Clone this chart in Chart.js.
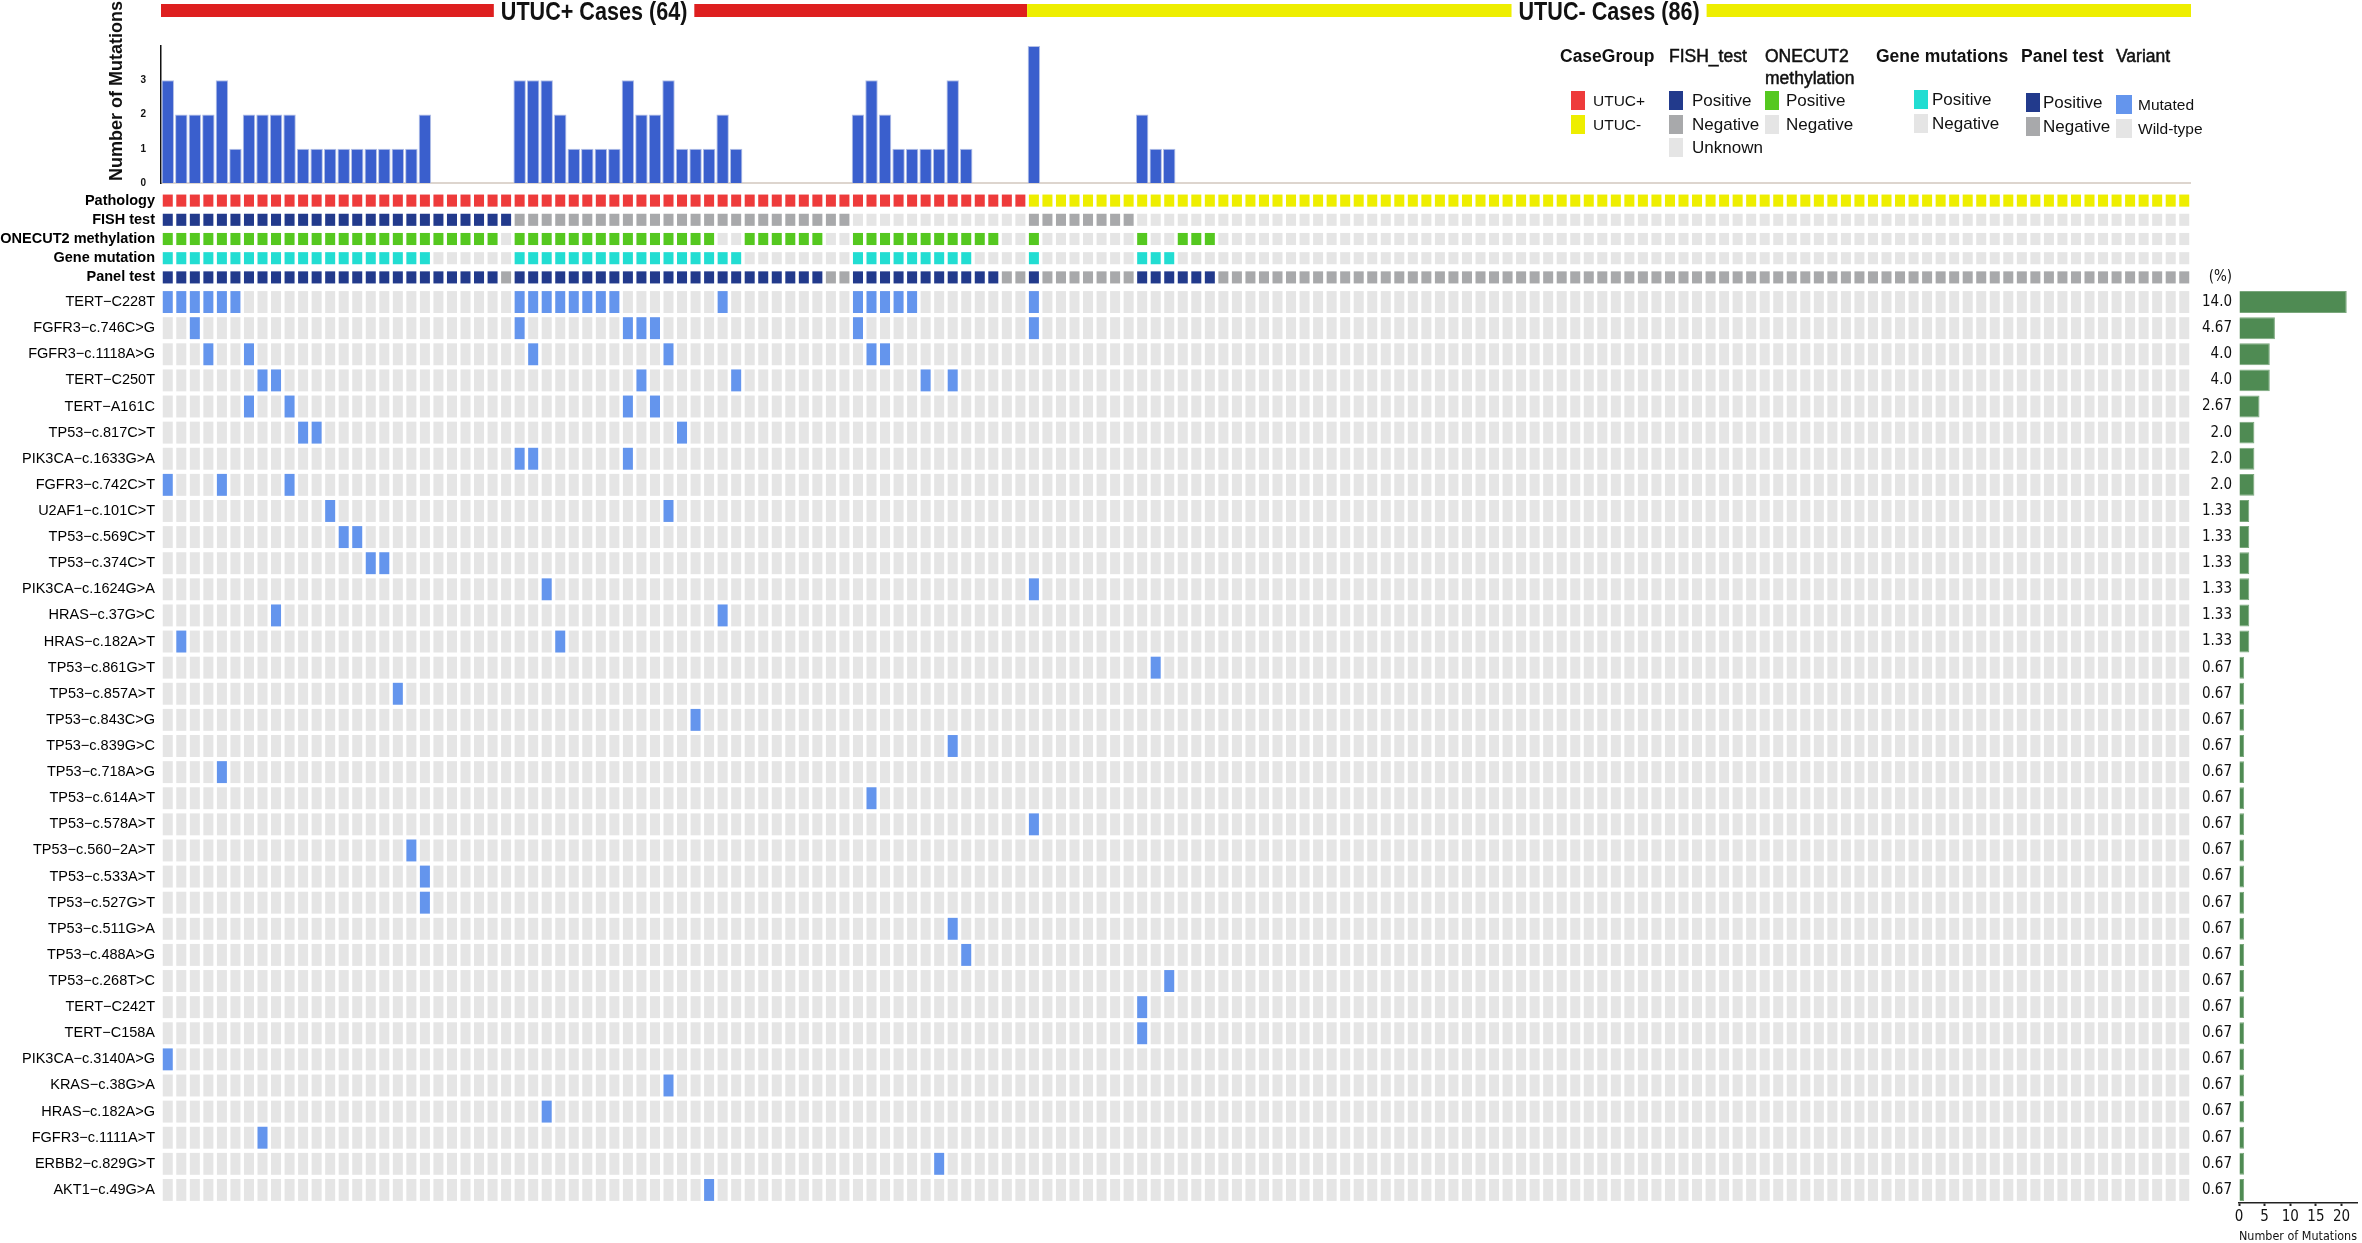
<!DOCTYPE html>
<html>
<head>
<meta charset="utf-8">
<title>UTUC oncoplot</title>
<script src="https://cdn.jsdelivr.net/npm/chart.js@4.4.1/dist/chart.umd.min.js"></script>
<style>
  html, body { margin: 0; padding: 0; background: #fff; }
  #page { position: relative; width: 2362px; height: 1243px; overflow: hidden;
          font-family: "Liberation Sans", Arial, sans-serif; color: #111; }
  canvas { position: absolute; }
  #topChart   { left: 0; top: 0; }
  #trackChart { left: 0; top: 191px; }
  #geneChart  { left: 0; top: 289px; }
  #freqChart  { left: 2195px; top: 260px; }

  /* legend */
  .lg { position: absolute; white-space: nowrap; }
  .lg-title { font-weight: bold; font-size: 17.5px; line-height: 22px; }
  .lg-title.light { font-weight: normal; -webkit-text-stroke: 0.5px #111; }
  .lg-item { position: relative; height: 23.5px; font-size: 17px; line-height: 23.5px; }
  .lg-item i { position: absolute; top: 2px; width: 14px; height: 19px; }
  .lg-item span { position: absolute; top: 0; }
  .small { font-size: 15.5px; }
</style>
</head>
<body>
<div id="page">
  <canvas id="topChart" width="2191" height="190"></canvas>
  <canvas id="trackChart" width="2191" height="96"></canvas>
  <canvas id="geneChart" width="2191" height="914"></canvas>
  <canvas id="freqChart" width="167" height="983"></canvas>

  <!-- ── Legend ───────────────────────────────────── -->
  <div class="lg lg-title" style="left:1560px;top:45px">CaseGroup</div>
  <div class="lg" style="left:1560px;top:89px;width:100px">
    <div class="lg-item small"><i style="left:11px;background:#ee3b3b"></i><span style="left:33px">UTUC+</span></div>
    <div class="lg-item small"><i style="left:11px;background:#eeee00"></i><span style="left:33px">UTUC-</span></div>
  </div>

  <div class="lg lg-title light" style="left:1669px;top:45px">FISH_test</div>
  <div class="lg" style="left:1669px;top:89px;width:95px">
    <div class="lg-item"><i style="left:0;background:#223a8c"></i><span style="left:23px">Positive</span></div>
    <div class="lg-item"><i style="left:0;background:#a8a9ab"></i><span style="left:23px">Negative</span></div>
    <div class="lg-item"><i style="left:0;background:#e5e5e5"></i><span style="left:23px">Unknown</span></div>
  </div>

  <div class="lg lg-title light" style="left:1765px;top:45px">ONECUT2<br>methylation</div>
  <div class="lg" style="left:1765px;top:89px;width:100px">
    <div class="lg-item"><i style="left:0;background:#55c820"></i><span style="left:21px">Positive</span></div>
    <div class="lg-item"><i style="left:0;background:#e5e5e5"></i><span style="left:21px">Negative</span></div>
  </div>

  <div class="lg lg-title" style="left:1876px;top:45px">Gene mutations</div>
  <div class="lg" style="left:1876px;top:88px;width:140px">
    <div class="lg-item"><i style="left:38px;background:#22ddd2"></i><span style="left:56px">Positive</span></div>
    <div class="lg-item"><i style="left:38px;background:#e5e5e5"></i><span style="left:56px">Negative</span></div>
  </div>

  <div class="lg lg-title" style="left:2021px;top:45px">Panel test</div>
  <div class="lg" style="left:2021px;top:91px;width:95px">
    <div class="lg-item"><i style="left:5px;background:#223a8c"></i><span style="left:22px">Positive</span></div>
    <div class="lg-item"><i style="left:5px;background:#a8a9ab"></i><span style="left:22px">Negative</span></div>
  </div>

  <div class="lg lg-title light" style="left:2116px;top:45px">Variant</div>
  <div class="lg" style="left:2116px;top:93px;width:90px">
    <div class="lg-item small"><i style="left:0;width:16px;background:#6495ed"></i><span style="left:22px">Mutated</span></div>
    <div class="lg-item small"><i style="left:0;width:16px;background:#e5e5e5"></i><span style="left:22px">Wild-type</span></div>
  </div>
</div>

<script>
// ── Data ──────────────────────────────────────────────
const caseGroups     = ['UTUC+', 'UTUC-'];
const caseGroupSizes = [64, 86];

// annotation tracks as runs of [status, consecutive samples], left to right
const pathologyRuns = [['UTUC+', 64], ['UTUC-', 86]];
const fishRuns      = [['Positive', 26], ['Negative', 25], ['Unknown', 13], ['Negative', 8], ['Unknown', 78]];
const onecut2Runs   = [['Positive', 25], ['Negative', 1], ['Positive', 15], ['Negative', 2], ['Positive', 6],
                       ['Negative', 2], ['Positive', 11], ['Negative', 2], ['Positive', 1], ['Negative', 7],
                       ['Positive', 1], ['Negative', 2], ['Positive', 3], ['Negative', 72]];
const geneMutRuns   = [['Positive', 20], ['Negative', 6], ['Positive', 17], ['Negative', 8], ['Positive', 9],
                       ['Negative', 4], ['Positive', 1], ['Negative', 7], ['Positive', 3], ['Negative', 75]];
const panelRuns     = [['Positive', 25], ['Negative', 1], ['Positive', 23], ['Negative', 2], ['Positive', 11],
                       ['Negative', 2], ['Positive', 1], ['Negative', 7], ['Positive', 6], ['Negative', 72]];

const trackNames = ['Pathology', 'FISH test', 'ONECUT2 methylation', 'Gene mutation', 'Panel test'];

const genes = [
  'TERT−C228T', 'FGFR3−c.746C>G', 'FGFR3−c.1118A>G', 'TERT−C250T', 'TERT−A161C',
  'TP53−c.817C>T', 'PIK3CA−c.1633G>A', 'FGFR3−c.742C>T', 'U2AF1−c.101C>T', 'TP53−c.569C>T',
  'TP53−c.374C>T', 'PIK3CA−c.1624G>A', 'HRAS−c.37G>C', 'HRAS−c.182A>T', 'TP53−c.861G>T',
  'TP53−c.857A>T', 'TP53−c.843C>G', 'TP53−c.839G>C', 'TP53−c.718A>G', 'TP53−c.614A>T',
  'TP53−c.578A>T', 'TP53−c.560−2A>T', 'TP53−c.533A>T', 'TP53−c.527G>T', 'TP53−c.511G>A',
  'TP53−c.488A>G', 'TP53−c.268T>C', 'TERT−C242T', 'TERT−C158A', 'PIK3CA−c.3140A>G',
  'KRAS−c.38G>A', 'HRAS−c.182A>G', 'FGFR3−c.1111A>T', 'ERBB2−c.829G>T', 'AKT1−c.49G>A'
];

// sample columns (1-based) carrying each variant, same order as genes
const mutatedSamples = [
  [1, 2, 3, 4, 5, 6, 27, 28, 29, 30, 31, 32, 33, 34, 42, 52, 53, 54, 55, 56, 65],
  [3, 27, 35, 36, 37, 52, 65],
  [4, 7, 28, 38, 53, 54],
  [8, 9, 36, 43, 57, 59],
  [7, 10, 35, 37],
  [11, 12, 39],
  [27, 28, 35],
  [1, 5, 10],
  [13, 38],
  [14, 15],
  [16, 17],
  [29, 65],
  [9, 42],
  [2, 30],
  [74],
  [18],
  [40],
  [59],
  [5],
  [53],
  [65],
  [19],
  [20],
  [20],
  [59],
  [60],
  [75],
  [73],
  [73],
  [1],
  [38],
  [29],
  [8],
  [58],
  [41]
];

const freqLabels = [
  '14.0', '4.67', '4.0', '4.0', '2.67', '2.0', '2.0', '2.0', '1.33', '1.33', '1.33', '1.33', '1.33', '1.33',
  '0.67', '0.67', '0.67', '0.67', '0.67', '0.67', '0.67', '0.67', '0.67', '0.67', '0.67',
  '0.67', '0.67', '0.67', '0.67', '0.67', '0.67', '0.67', '0.67', '0.67', '0.67'
];

// ── Colours & fonts ───────────────────────────────────
const SANS   = '"Liberation Sans", Arial, sans-serif';
const NARROW = '"Liberation Sans Narrow", "DejaVu Sans Condensed", sans-serif';
const GREY_LIGHT = '#e5e5e5';
const GREY_MID   = '#a8a9ab';
const NAVY       = '#223a8c';
const trackColors = {
  'Pathology':           { 'UTUC+': '#ee3b3b', 'UTUC-': '#eeee00' },
  'FISH test':           { Positive: NAVY, Negative: GREY_MID, Unknown: GREY_LIGHT },
  'ONECUT2 methylation': { Positive: '#55c820', Negative: GREY_LIGHT },
  'Gene mutation':       { Positive: '#22ddd2', Negative: GREY_LIGHT },
  'Panel test':          { Positive: NAVY, Negative: GREY_MID }
};
const caseBarColors = ['#de1f1f', '#eeee00'];
const MUTATED   = '#6495ed';
const TILE_HALF = 0.37;   // half tile width in sample units

// ── Derived ───────────────────────────────────────────
const expand      = runs => runs.flatMap(([v, n]) => Array(n).fill(v));
const sampleCount = caseGroupSizes.reduce((a, b) => a + b, 0);
const samples     = Array.from({ length: sampleCount }, (_, i) => i + 1);
const trackValues = [pathologyRuns, fishRuns, onecut2Runs, geneMutRuns, panelRuns].map(expand);
const perSample   = samples.map(s => mutatedSamples.filter(l => l.includes(s)).length);
const perGene     = mutatedSamples.map(l => l.length);

const noChrome = { legend: { display: false }, tooltip: { enabled: false } };
const fixedWidth = w => s => { s.width = w; s.paddingTop = 0; s.paddingBottom = 0; };

// ── Top: case-group header + mutation count bars ──────
const SQUEEZE = 0.83;   // narrow look of the original header lettering
const headerPlugin = {
  id: 'header',
  afterDraw(chart) {
    const { ctx } = chart;
    const x = chart.scales.x;
    const pitch = x.width / sampleCount;
    let start = 0;
    ctx.save();
    ctx.font = `bold 26px ${SANS}`;
    ctx.textAlign = 'center';
    ctx.textBaseline = 'middle';
    caseGroups.forEach((g, gi) => {
      const n  = caseGroupSizes[gi];
      const x0 = x.getPixelForValue(start) - pitch / 2;
      const x1 = x.getPixelForValue(start + n - 1) + pitch / 2;
      const label = `${g} Cases (${n})`;
      const half = ctx.measureText(label).width * SQUEEZE / 2 + 7;
      const cx = (x0 + x1) / 2;
      ctx.fillStyle = caseBarColors[gi];
      ctx.fillRect(x0, 4, cx - half - x0, 13);
      ctx.fillRect(cx + half, 4, x1 - cx - half, 13);
      ctx.save();
      ctx.translate(cx, 13);
      ctx.scale(SQUEEZE, 1);
      ctx.fillStyle = '#111';
      ctx.fillText(label, 0, 0);
      ctx.restore();
      start += n;
    });
    // axis title, set higher than the axis itself
    ctx.font = `bold 18px ${SANS}`;
    ctx.fillStyle = '#111';
    ctx.translate(117, 91);
    ctx.rotate(-Math.PI / 2);
    ctx.fillText('Number of Mutations', 0, 0);
    ctx.restore();
  }
};

new Chart(document.getElementById('topChart'), {
  type: 'bar',
  data: {
    labels: samples,
    datasets: [{
      data: perSample,
      backgroundColor: '#3a5fcd',
      borderColor: '#b4c0e6',
      borderWidth: 1,
      barPercentage: 0.92,
      categoryPercentage: 1
    }]
  },
  options: {
    responsive: false, animation: false, events: [],
    layout: { padding: { top: 46 } },
    plugins: noChrome,
    scales: {
      x: {
        ticks: { display: false },
        grid: { display: false },
        border: { color: '#ddd5ce', width: 2 },
        afterFit: s => { s.height = 7; }
      },
      y: {
        min: 0, max: 4,
        afterFit: fixedWidth(161),
        ticks: {
          stepSize: 1, padding: 15, color: '#111',
          font: { size: 10, weight: 'bold', family: SANS },
          callback: v => (v < 4 ? v : '')
        },
        grid: { display: false, drawTicks: false },
        border: { color: '#111', width: 1.5 }
      }
    }
  },
  plugins: [headerPlugin]
});

// ── Annotation tracks ─────────────────────────────────
new Chart(document.getElementById('trackChart'), {
  type: 'bar',
  data: {
    labels: trackNames,
    datasets: trackNames.map((name, t) => ({
      data: samples.map(s => ({ x: [s - TILE_HALF, s + TILE_HALF], y: name })),
      backgroundColor: trackValues[t].map(v => trackColors[name][v]),
      borderWidth: 0,
      grouped: false,
      barPercentage: 0.63,
      categoryPercentage: 1
    }))
  },
  options: {
    indexAxis: 'y', responsive: false, animation: false, events: [],
    plugins: noChrome,
    scales: {
      x: { type: 'linear', min: 0.5, max: sampleCount + 0.5, display: false },
      y: {
        afterFit: fixedWidth(161),
        ticks: { autoSkip: false, padding: 6, color: '#000', font: { size: 14.5, weight: 'bold', family: SANS } },
        grid: { display: false, drawTicks: false },
        border: { display: false }
      }
    }
  }
});

// ── Variant grid ──────────────────────────────────────
const mutatedCells = [], wildCells = [];
genes.forEach((g, gi) => samples.forEach(s => {
  const cell = { x: [s - TILE_HALF, s + TILE_HALF], y: g };
  (mutatedSamples[gi].includes(s) ? mutatedCells : wildCells).push(cell);
}));

new Chart(document.getElementById('geneChart'), {
  type: 'bar',
  data: {
    labels: genes,
    datasets: [
      { label: 'Wild-type', data: wildCells,    backgroundColor: GREY_LIGHT },
      { label: 'Mutated',   data: mutatedCells, backgroundColor: MUTATED }
    ].map(d => ({ ...d, borderWidth: 0, grouped: false, barPercentage: 0.84, categoryPercentage: 1 }))
  },
  options: {
    indexAxis: 'y', responsive: false, animation: false, events: [],
    plugins: noChrome,
    scales: {
      x: { type: 'linear', min: 0.5, max: sampleCount + 0.5, display: false },
      y: {
        afterFit: fixedWidth(161),
        ticks: { autoSkip: false, padding: 6, color: '#000', font: { size: 14.5, family: SANS } },
        grid: { display: false, drawTicks: false },
        border: { display: false }
      }
    }
  }
});

// ── Variant frequency bars (right) ────────────────────
const pctHeader = {
  id: 'pctHeader',
  afterDraw(chart) {
    const { ctx, chartArea } = chart;
    ctx.save();
    ctx.font = `15px ${NARROW}`;
    ctx.fillStyle = '#111';
    ctx.textAlign = 'right';
    ctx.textBaseline = 'middle';
    ctx.fillText('(%)', chartArea.left - 7, chartArea.top - 12);
    ctx.restore();
  }
};

new Chart(document.getElementById('freqChart'), {
  type: 'bar',
  data: {
    labels: freqLabels,
    datasets: [{
      data: perGene,
      backgroundColor: '#4f8b53',
      borderColor: '#7aa77c',
      borderWidth: 1,
      barPercentage: 0.84,
      categoryPercentage: 1
    }]
  },
  options: {
    indexAxis: 'y', responsive: false, animation: false, events: [],
    layout: { padding: { top: 29, right: 5 } },
    plugins: noChrome,
    scales: {
      x: {
        min: 0, max: 23,
        afterFit: s => { s.height = 40; s.paddingLeft = 0; s.paddingRight = 0; },
        ticks: { stepSize: 5, includeBounds: false, padding: 2, color: '#111', font: { size: 15, family: NARROW } },
        grid: { drawOnChartArea: false, tickLength: 3, tickColor: '#222', tickWidth: 2 },
        border: { color: '#222', width: 1.5 },
        title: {
          display: true, text: 'Number of Mutations', padding: 0, color: '#111',
          font: { size: 13, family: '"DejaVu Sans Condensed", ' + NARROW, lineHeight: 1 }
        }
      },
      y: {
        afterFit: fixedWidth(44),
        ticks: { autoSkip: false, padding: 7, color: '#111', font: { size: 15, family: NARROW } },
        grid: { display: false, drawTicks: false },
        border: { display: false }
      }
    }
  },
  plugins: [pctHeader]
});
</script>
</body>
</html>
